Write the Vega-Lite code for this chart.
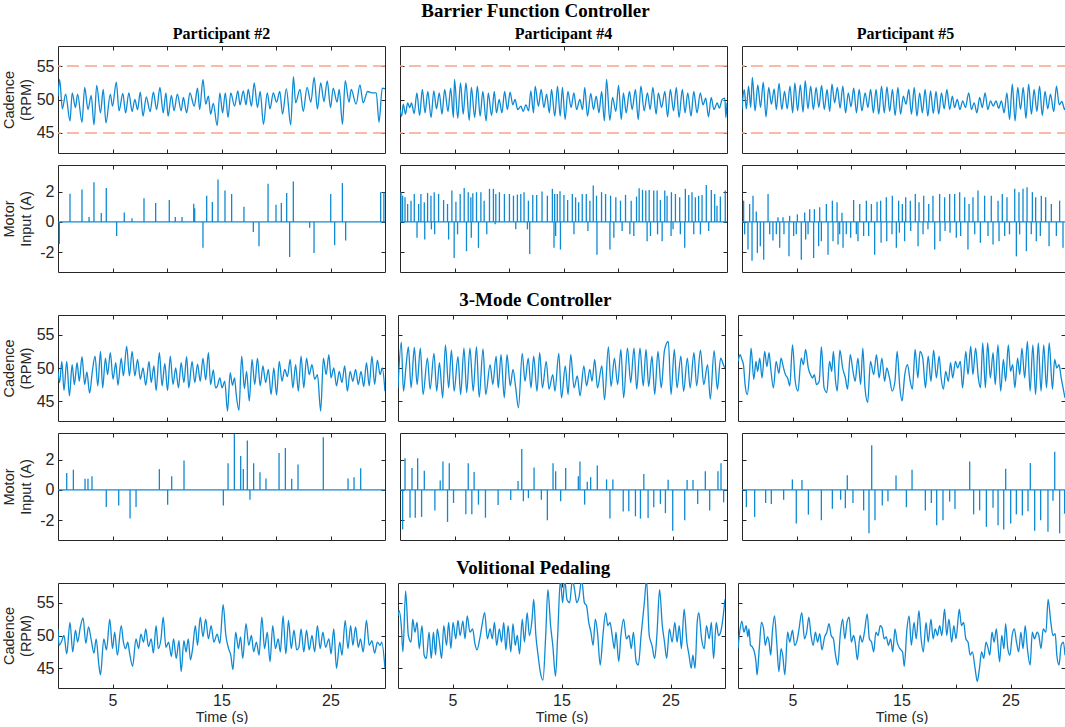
{
  "$schema": "https://vega.github.io/schema/vega-lite/v6.json",
  "background": "white",
  "padding": {"left": 0, "top": 2, "right": 1, "bottom": 0},
  "config": {
    "view": {"stroke": "#262626", "strokeWidth": 1},
    "axis": {"domain": false, "grid": false, "tickSize": -4, "tickColor": "#262626", "tickWidth": 1, "labelPadding": 8, "labelFont": "Liberation Sans", "labelFontSize": 16, "labelColor": "#262626", "titleFont": "Liberation Sans", "titleFontSize": 14.5, "titleFontWeight": "normal", "titleColor": "#262626", "titleLineHeight": 17},
    "axisBottom": {"titlePadding": 2},
    "line": {"interpolate": "monotone"},
    "title": {"font": "Liberation Serif", "fontWeight": "bold", "color": "#000000", "anchor": "middle", "fontSize": 16, "offset": 4}
  },
  "datasets": {
    "lim": [{"v": 45}, {"v": 55}],
    "zero": [{"v": 0}],
    "c1": [{"t":0,"v":50.5},{"t":0.15,"v":53},{"t":0.4,"v":48.6},{"t":0.7,"v":50.8},{"t":1.1,"v":46.8},{"t":1.3,"v":51},{"t":1.6,"v":48.8},{"t":1.8,"v":50.8},{"t":2.2,"v":46.6},{"t":2.45,"v":51.8},{"t":2.75,"v":48.5},{"t":3.05,"v":50.6},{"t":3.3,"v":46.2},{"t":3.55,"v":52.1},{"t":3.9,"v":48},{"t":4.15,"v":51.5},{"t":4.4,"v":46.5},{"t":4.8,"v":50.8},{"t":5,"v":49},{"t":5.35,"v":52.6},{"t":5.6,"v":48.3},{"t":5.95,"v":50.9},{"t":6.2,"v":48},{"t":6.5,"v":51},{"t":6.8,"v":48.2},{"t":7.05,"v":50},{"t":7.3,"v":48.5},{"t":7.55,"v":51.1},{"t":7.8,"v":47.5},{"t":8.1,"v":50.4},{"t":8.45,"v":48.2},{"t":8.75,"v":51.1},{"t":9.05,"v":48.5},{"t":9.35,"v":51.8},{"t":9.65,"v":48},{"t":9.9,"v":51},{"t":10.1,"v":47.5},{"t":10.4,"v":50.6},{"t":10.65,"v":48.3},{"t":10.95,"v":50.8},{"t":11.3,"v":48.3},{"t":11.5,"v":50.3},{"t":11.8,"v":48},{"t":12.1,"v":51},{"t":12.5,"v":49},{"t":12.8,"v":51.7},{"t":13,"v":48.5},{"t":13.3,"v":53},{"t":13.55,"v":49.3},{"t":13.8,"v":50.5},{"t":14,"v":47.8},{"t":14.25,"v":49.4},{"t":14.6,"v":46.1},{"t":14.85,"v":51},{"t":15.1,"v":48},{"t":15.35,"v":51},{"t":15.6,"v":47.3},{"t":15.85,"v":51},{"t":16.2,"v":49},{"t":16.5,"v":51.3},{"t":16.7,"v":49.2},{"t":17,"v":51.3},{"t":17.25,"v":49.2},{"t":17.45,"v":51.5},{"t":17.75,"v":49},{"t":18,"v":52.5},{"t":18.3,"v":48.8},{"t":18.55,"v":51.2},{"t":18.85,"v":46.3},{"t":19.2,"v":51},{"t":19.45,"v":48.6},{"t":19.75,"v":51},{"t":20.05,"v":49.6},{"t":20.35,"v":51.2},{"t":20.6,"v":47.8},{"t":20.95,"v":51.6},{"t":21.35,"v":46.2},{"t":21.6,"v":53.4},{"t":21.8,"v":49.5},{"t":22.2,"v":51.5},{"t":22.5,"v":48.2},{"t":22.85,"v":51.8},{"t":23.2,"v":49.6},{"t":23.5,"v":53.3},{"t":23.8,"v":48.6},{"t":24.1,"v":52.5},{"t":24.4,"v":49.7},{"t":24.7,"v":52.8},{"t":25,"v":48.8},{"t":25.25,"v":51.7},{"t":25.6,"v":49.6},{"t":25.8,"v":51.5},{"t":26.1,"v":46.3},{"t":26.35,"v":52.8},{"t":26.7,"v":49.6},{"t":26.9,"v":51.5},{"t":27.35,"v":49.3},{"t":27.7,"v":52.2},{"t":28,"v":49.5},{"t":28.4,"v":51.2},{"t":28.8,"v":51},{"t":29.2,"v":51},{"t":29.45,"v":46.6},{"t":29.75,"v":51.7},{"t":30,"v":51.6}],
    "c2": [{"t":0,"v":48.5},{"t":0.15,"v":47.5},{"t":0.3,"v":49.3},{"t":0.5,"v":47.8},{"t":0.7,"v":49.5},{"t":0.9,"v":48.8},{"t":1.05,"v":49.5},{"t":1.3,"v":47.9},{"t":1.55,"v":51},{"t":1.8,"v":47.6},{"t":2.05,"v":51.5},{"t":2.3,"v":48},{"t":2.55,"v":51.2},{"t":2.85,"v":47.3},{"t":3.1,"v":51.3},{"t":3.35,"v":48.6},{"t":3.6,"v":51},{"t":3.85,"v":47.8},{"t":4.1,"v":51.5},{"t":4.4,"v":48.2},{"t":4.65,"v":51.7},{"t":4.9,"v":47.3},{"t":5,"v":53},{"t":5.3,"v":47.2},{"t":5.55,"v":52.5},{"t":5.8,"v":47.8},{"t":6.05,"v":52.5},{"t":6.35,"v":46.9},{"t":6.55,"v":51.8},{"t":6.85,"v":47.3},{"t":7.1,"v":52},{"t":7.35,"v":47.5},{"t":7.6,"v":51.2},{"t":7.9,"v":46.8},{"t":8.1,"v":51},{"t":8.4,"v":47.6},{"t":8.65,"v":51.2},{"t":8.85,"v":48},{"t":9.1,"v":50},{"t":9.35,"v":48},{"t":9.6,"v":51.2},{"t":9.85,"v":48.5},{"t":10.1,"v":51.1},{"t":10.35,"v":49.2},{"t":10.55,"v":50},{"t":10.8,"v":48.5},{"t":11.1,"v":49},{"t":11.3,"v":48.2},{"t":11.55,"v":49.2},{"t":11.8,"v":48.3},{"t":12,"v":51.3},{"t":12.25,"v":48},{"t":12.4,"v":52},{"t":12.7,"v":49},{"t":12.95,"v":51.5},{"t":13.2,"v":48.8},{"t":13.45,"v":50.8},{"t":13.7,"v":48},{"t":13.9,"v":51.5},{"t":14.2,"v":47.5},{"t":14.45,"v":52},{"t":14.7,"v":47.5},{"t":14.9,"v":51.8},{"t":15.15,"v":47},{"t":15.4,"v":51.2},{"t":15.7,"v":48.8},{"t":15.95,"v":51},{"t":16.2,"v":48.5},{"t":16.5,"v":50},{"t":16.75,"v":48.5},{"t":16.95,"v":51.8},{"t":17.2,"v":47.5},{"t":17.5,"v":50.9},{"t":17.75,"v":48.5},{"t":18,"v":50.5},{"t":18.25,"v":48},{"t":18.5,"v":51.2},{"t":18.75,"v":46.8},{"t":18.95,"v":53},{"t":19.25,"v":46.9},{"t":19.5,"v":50.3},{"t":19.8,"v":48.2},{"t":20.05,"v":52.1},{"t":20.3,"v":47},{"t":20.5,"v":51},{"t":20.75,"v":48},{"t":21.05,"v":51.2},{"t":21.3,"v":48.5},{"t":21.6,"v":51.5},{"t":21.85,"v":47},{"t":22.1,"v":52},{"t":22.4,"v":48.3},{"t":22.7,"v":51},{"t":22.95,"v":48.5},{"t":23.2,"v":51.8},{"t":23.5,"v":47.8},{"t":23.7,"v":51},{"t":24,"v":48.8},{"t":24.3,"v":51.2},{"t":24.55,"v":47.4},{"t":24.8,"v":51.5},{"t":25.1,"v":48.3},{"t":25.35,"v":51.8},{"t":25.6,"v":47.3},{"t":25.9,"v":51.5},{"t":26.15,"v":48},{"t":26.4,"v":51},{"t":26.7,"v":47.5},{"t":26.95,"v":51.2},{"t":27.25,"v":48},{"t":27.55,"v":51},{"t":27.8,"v":49.2},{"t":28.05,"v":50.2},{"t":28.3,"v":47.4},{"t":28.55,"v":50.3},{"t":28.8,"v":48.5},{"t":29.1,"v":49.5},{"t":29.3,"v":48.7},{"t":29.55,"v":50},{"t":29.8,"v":50.2},{"t":29.9,"v":47.3},{"t":30,"v":49.5}],
    "c3": [{"t":0,"v":48.5},{"t":0.2,"v":51.5},{"t":0.4,"v":48.6},{"t":0.6,"v":52},{"t":0.8,"v":48.8},{"t":0.95,"v":53.3},{"t":1.2,"v":48.3},{"t":1.45,"v":52.2},{"t":1.7,"v":48.8},{"t":1.95,"v":52.6},{"t":2.2,"v":47.4},{"t":2.45,"v":51.8},{"t":2.7,"v":49.3},{"t":2.95,"v":51.6},{"t":3.15,"v":48.5},{"t":3.4,"v":52.4},{"t":3.65,"v":48.5},{"t":3.9,"v":51.2},{"t":4.15,"v":48.6},{"t":4.4,"v":52},{"t":4.65,"v":48},{"t":4.85,"v":52.5},{"t":5.1,"v":48.3},{"t":5.35,"v":52.2},{"t":5.6,"v":48.1},{"t":5.8,"v":52.8},{"t":6.05,"v":48.6},{"t":6.3,"v":52},{"t":6.55,"v":48.5},{"t":6.8,"v":51.8},{"t":7.05,"v":48.8},{"t":7.3,"v":52.1},{"t":7.55,"v":48.5},{"t":7.8,"v":51.5},{"t":8.05,"v":48.2},{"t":8.25,"v":52.3},{"t":8.5,"v":49.5},{"t":8.75,"v":51.8},{"t":9,"v":48.7},{"t":9.25,"v":52},{"t":9.5,"v":48},{"t":9.75,"v":51},{"t":10,"v":48.9},{"t":10.25,"v":51.7},{"t":10.5,"v":48},{"t":10.75,"v":51.5},{"t":11,"v":48.3},{"t":11.3,"v":51},{"t":11.55,"v":48.8},{"t":11.8,"v":51.5},{"t":12.05,"v":48},{"t":12.3,"v":51.5},{"t":12.55,"v":47.8},{"t":12.8,"v":52},{"t":13.05,"v":48},{"t":13.3,"v":51.9},{"t":13.55,"v":48.2},{"t":13.8,"v":51.5},{"t":14.05,"v":47.6},{"t":14.3,"v":51.8},{"t":14.55,"v":47.8},{"t":14.8,"v":50.5},{"t":15.05,"v":49.3},{"t":15.3,"v":51.5},{"t":15.55,"v":47.8},{"t":15.8,"v":51.8},{"t":16.05,"v":47.5},{"t":16.3,"v":51},{"t":16.55,"v":48},{"t":16.8,"v":51.5},{"t":17.05,"v":47.5},{"t":17.3,"v":51.3},{"t":17.55,"v":47.9},{"t":17.8,"v":51.2},{"t":18.05,"v":47.8},{"t":18.3,"v":51},{"t":18.55,"v":48.6},{"t":18.8,"v":51.5},{"t":19.05,"v":48.5},{"t":19.3,"v":50.5},{"t":19.5,"v":48.8},{"t":19.75,"v":50},{"t":20,"v":48.5},{"t":20.25,"v":49.8},{"t":20.5,"v":48.8},{"t":20.8,"v":51},{"t":21.05,"v":48.5},{"t":21.3,"v":49.5},{"t":21.55,"v":48},{"t":21.8,"v":50.3},{"t":22.05,"v":48.8},{"t":22.3,"v":51},{"t":22.55,"v":48.5},{"t":22.8,"v":49.8},{"t":23.05,"v":49},{"t":23.3,"v":49.8},{"t":23.55,"v":48.7},{"t":23.8,"v":49.8},{"t":24.05,"v":48},{"t":24.3,"v":51},{"t":24.55,"v":47},{"t":24.8,"v":52.3},{"t":25.05,"v":46.8},{"t":25.3,"v":51.8},{"t":25.55,"v":48.5},{"t":25.8,"v":51.8},{"t":26.05,"v":47.2},{"t":26.3,"v":52.3},{"t":26.55,"v":47.8},{"t":26.8,"v":51.5},{"t":27.05,"v":48.2},{"t":27.3,"v":52},{"t":27.55,"v":47.6},{"t":27.8,"v":51.2},{"t":28.05,"v":48.6},{"t":28.3,"v":50.8},{"t":28.6,"v":48.2},{"t":28.85,"v":52},{"t":29.1,"v":49.2},{"t":29.35,"v":49.7},{"t":29.6,"v":48.5},{"t":29.8,"v":49.3},{"t":30,"v":49}],
    "c4": [{"t":0,"v":49.5},{"t":0.15,"v":47.8},{"t":0.35,"v":51},{"t":0.55,"v":46.6},{"t":0.8,"v":51},{"t":1.05,"v":45.8},{"t":1.3,"v":50.5},{"t":1.5,"v":47.5},{"t":1.75,"v":50.8},{"t":1.95,"v":48},{"t":2.2,"v":51.7},{"t":2.45,"v":47.5},{"t":2.65,"v":49.4},{"t":2.9,"v":46.2},{"t":3.15,"v":49.5},{"t":3.4,"v":51.8},{"t":3.65,"v":47.3},{"t":3.9,"v":52.5},{"t":4.1,"v":47},{"t":4.35,"v":51.5},{"t":4.55,"v":49},{"t":4.8,"v":52.3},{"t":5.05,"v":48.3},{"t":5.3,"v":50.8},{"t":5.5,"v":47.4},{"t":5.8,"v":51.5},{"t":6,"v":48.8},{"t":6.3,"v":53.3},{"t":6.55,"v":48.8},{"t":6.8,"v":52.5},{"t":7.05,"v":48.8},{"t":7.3,"v":51.3},{"t":7.55,"v":48.3},{"t":7.8,"v":50},{"t":8.05,"v":47.4},{"t":8.35,"v":51},{"t":8.55,"v":47.8},{"t":8.8,"v":50.3},{"t":9,"v":46.6},{"t":9.3,"v":52.3},{"t":9.55,"v":47.3},{"t":9.8,"v":50.7},{"t":10.05,"v":46.6},{"t":10.3,"v":51.8},{"t":10.55,"v":47.5},{"t":10.8,"v":50},{"t":11.05,"v":47},{"t":11.3,"v":50.8},{"t":11.55,"v":47.8},{"t":11.8,"v":51.7},{"t":12,"v":47},{"t":12.3,"v":51},{"t":12.55,"v":47.8},{"t":12.8,"v":50.6},{"t":13.05,"v":48},{"t":13.3,"v":51.5},{"t":13.55,"v":48.2},{"t":13.8,"v":52.3},{"t":14,"v":47.5},{"t":14.25,"v":49.7},{"t":14.45,"v":47},{"t":14.6,"v":47.2},{"t":14.85,"v":48.5},{"t":15.05,"v":47},{"t":15.3,"v":48},{"t":15.55,"v":43.5},{"t":15.8,"v":49.3},{"t":16,"v":47.4},{"t":16.2,"v":48.5},{"t":16.35,"v":46},{"t":16.6,"v":43.6},{"t":16.85,"v":51.8},{"t":17.1,"v":46.9},{"t":17.3,"v":49.5},{"t":17.55,"v":45},{"t":17.8,"v":51.3},{"t":18.05,"v":47.5},{"t":18.3,"v":51.5},{"t":18.55,"v":47.3},{"t":18.8,"v":50.3},{"t":19.05,"v":47.8},{"t":19.3,"v":49.8},{"t":19.55,"v":46},{"t":19.8,"v":50},{"t":20.05,"v":45.9},{"t":20.3,"v":51},{"t":20.55,"v":48},{"t":20.8,"v":49.8},{"t":21.05,"v":48.7},{"t":21.3,"v":51.3},{"t":21.55,"v":47},{"t":21.8,"v":50.5},{"t":22.05,"v":46.5},{"t":22.3,"v":51.8},{"t":22.55,"v":47},{"t":22.8,"v":51.5},{"t":23.05,"v":49},{"t":23.3,"v":50.5},{"t":23.55,"v":48.3},{"t":23.8,"v":49},{"t":24.1,"v":43.5},{"t":24.35,"v":51.5},{"t":24.6,"v":49},{"t":24.85,"v":52},{"t":25.05,"v":48.5},{"t":25.3,"v":50},{"t":25.55,"v":47.3},{"t":25.8,"v":49.5},{"t":26.05,"v":47.8},{"t":26.3,"v":50.3},{"t":26.55,"v":46.5},{"t":26.8,"v":49.5},{"t":27.05,"v":48},{"t":27.3,"v":49.8},{"t":27.55,"v":47.5},{"t":27.8,"v":49.5},{"t":28.05,"v":47.2},{"t":28.3,"v":50.8},{"t":28.55,"v":47.3},{"t":28.8,"v":51.8},{"t":29.05,"v":47.5},{"t":29.3,"v":51.2},{"t":29.55,"v":49},{"t":29.75,"v":50},{"t":30,"v":46.5}],
    "c5": [{"t":0,"v":47},{"t":0.3,"v":53.9},{"t":0.5,"v":46.5},{"t":0.75,"v":50.5},{"t":0.95,"v":53.2},{"t":1.2,"v":47},{"t":1.5,"v":53.1},{"t":1.75,"v":47.5},{"t":2.05,"v":53},{"t":2.3,"v":46},{"t":2.7,"v":51.5},{"t":2.95,"v":46.8},{"t":3.3,"v":52.2},{"t":3.55,"v":46.5},{"t":3.8,"v":50.8},{"t":4.1,"v":45.5},{"t":4.35,"v":53.5},{"t":4.65,"v":47},{"t":4.9,"v":52.7},{"t":5.15,"v":46.5},{"t":5.5,"v":51.7},{"t":5.75,"v":46},{"t":6.05,"v":53},{"t":6.3,"v":46.3},{"t":6.6,"v":53},{"t":6.9,"v":46.5},{"t":7.2,"v":53.2},{"t":7.45,"v":45.6},{"t":7.8,"v":52.9},{"t":8.05,"v":46},{"t":8.45,"v":50.5},{"t":8.7,"v":47.5},{"t":9,"v":51.8},{"t":9.2,"v":47},{"t":9.45,"v":52},{"t":9.75,"v":45.5},{"t":10,"v":52},{"t":10.3,"v":47.3},{"t":10.55,"v":49.8},{"t":10.8,"v":47},{"t":11.05,"v":44},{"t":11.4,"v":52.2},{"t":11.65,"v":48},{"t":11.95,"v":51.5},{"t":12.2,"v":47},{"t":12.45,"v":51.8},{"t":12.75,"v":46.5},{"t":13,"v":52.3},{"t":13.25,"v":47},{"t":13.6,"v":51},{"t":13.85,"v":46.8},{"t":14.2,"v":49},{"t":14.4,"v":46.5},{"t":14.75,"v":52.2},{"t":15,"v":45.5},{"t":15.35,"v":50.3},{"t":15.6,"v":46},{"t":15.85,"v":52},{"t":16.15,"v":47},{"t":16.45,"v":48.8},{"t":16.7,"v":45.8},{"t":17.05,"v":50.3},{"t":17.3,"v":47.3},{"t":17.6,"v":49.8},{"t":17.8,"v":48},{"t":18.05,"v":51.3},{"t":18.3,"v":47},{"t":18.7,"v":50.3},{"t":18.95,"v":45.2},{"t":19.3,"v":53.2},{"t":19.55,"v":47.2},{"t":19.85,"v":51.5},{"t":20.15,"v":47.5},{"t":20.45,"v":52.8},{"t":20.7,"v":45.5},{"t":21.05,"v":53},{"t":21.35,"v":47.8},{"t":21.65,"v":53},{"t":21.9,"v":46.8},{"t":22.2,"v":53},{"t":22.5,"v":47.3},{"t":22.75,"v":52.8},{"t":23,"v":47.2},{"t":23.3,"v":51.8},{"t":23.55,"v":46},{"t":23.85,"v":52.5},{"t":24.15,"v":47},{"t":24.45,"v":52.7},{"t":24.8,"v":54},{"t":25.05,"v":46},{"t":25.35,"v":52.8},{"t":25.6,"v":47},{"t":25.95,"v":51.8},{"t":26.2,"v":46.5},{"t":26.55,"v":51.5},{"t":26.8,"v":47},{"t":27.15,"v":52.3},{"t":27.4,"v":47.3},{"t":27.75,"v":52.7},{"t":28.05,"v":47.5},{"t":28.4,"v":50.5},{"t":28.65,"v":45.3},{"t":29,"v":52.6},{"t":29.3,"v":46.8},{"t":29.6,"v":51.5},{"t":29.9,"v":50.3},{"t":30,"v":50}],
    "c6": [{"t":0,"v":51},{"t":0.2,"v":52},{"t":0.35,"v":51.3},{"t":0.5,"v":50.5},{"t":0.65,"v":47.5},{"t":0.85,"v":46},{"t":1.05,"v":49},{"t":1.2,"v":53},{"t":1.45,"v":48.3},{"t":1.65,"v":51},{"t":1.8,"v":49.5},{"t":2,"v":51.5},{"t":2.2,"v":48.5},{"t":2.45,"v":52.5},{"t":2.65,"v":50.2},{"t":2.85,"v":52.3},{"t":3,"v":50},{"t":3.25,"v":47},{"t":3.5,"v":51},{"t":3.75,"v":49.2},{"t":3.95,"v":51.5},{"t":4.15,"v":50.2},{"t":4.35,"v":49},{"t":4.55,"v":48.5},{"t":4.75,"v":47.3},{"t":5,"v":53.5},{"t":5.25,"v":48},{"t":5.5,"v":46.5},{"t":5.8,"v":51.5},{"t":6,"v":50.5},{"t":6.2,"v":52.8},{"t":6.45,"v":50},{"t":6.65,"v":49},{"t":6.85,"v":48.5},{"t":7,"v":49},{"t":7.2,"v":47.5},{"t":7.45,"v":48},{"t":7.65,"v":53.2},{"t":7.9,"v":47},{"t":8.15,"v":46.3},{"t":8.4,"v":51},{"t":8.6,"v":49.5},{"t":8.75,"v":52.5},{"t":8.95,"v":48},{"t":9.1,"v":46.5},{"t":9.35,"v":52.7},{"t":9.6,"v":50},{"t":9.85,"v":48.5},{"t":10.05,"v":46.8},{"t":10.3,"v":52},{"t":10.55,"v":49.5},{"t":10.75,"v":48},{"t":11,"v":51.5},{"t":11.25,"v":47.5},{"t":11.45,"v":53},{"t":11.65,"v":47},{"t":11.9,"v":44.8},{"t":12.15,"v":51},{"t":12.45,"v":49},{"t":12.7,"v":52},{"t":12.95,"v":48.5},{"t":13.2,"v":51.5},{"t":13.45,"v":48},{"t":13.65,"v":50},{"t":13.9,"v":48.5},{"t":14.15,"v":46.5},{"t":14.4,"v":48},{"t":14.6,"v":52.5},{"t":14.85,"v":47},{"t":15.05,"v":45},{"t":15.3,"v":49},{"t":15.55,"v":50.5},{"t":15.8,"v":48},{"t":16,"v":46.8},{"t":16.25,"v":52.8},{"t":16.5,"v":48.5},{"t":16.7,"v":52.5},{"t":16.95,"v":51.5},{"t":17.2,"v":47},{"t":17.45,"v":51.8},{"t":17.7,"v":48},{"t":17.95,"v":52.7},{"t":18.2,"v":48.5},{"t":18.45,"v":51.8},{"t":18.65,"v":48.3},{"t":18.85,"v":46.8},{"t":19.05,"v":49.5},{"t":19.3,"v":48},{"t":19.5,"v":50.8},{"t":19.7,"v":48.5},{"t":19.95,"v":51},{"t":20.15,"v":50},{"t":20.4,"v":51},{"t":20.6,"v":47},{"t":20.9,"v":52.5},{"t":21.1,"v":49},{"t":21.35,"v":53.3},{"t":21.55,"v":49},{"t":21.8,"v":53},{"t":22.05,"v":48.5},{"t":22.25,"v":47},{"t":22.45,"v":53.8},{"t":22.7,"v":47},{"t":22.9,"v":53.8},{"t":23.15,"v":48.5},{"t":23.4,"v":52.3},{"t":23.6,"v":47.5},{"t":23.85,"v":53.5},{"t":24.1,"v":46.5},{"t":24.35,"v":51.3},{"t":24.55,"v":48},{"t":24.8,"v":53.5},{"t":25,"v":49.5},{"t":25.2,"v":50.5},{"t":25.4,"v":47},{"t":25.65,"v":51.5},{"t":25.85,"v":49},{"t":26.05,"v":53},{"t":26.3,"v":48.5},{"t":26.55,"v":54},{"t":26.8,"v":46.5},{"t":27.05,"v":53.5},{"t":27.3,"v":46},{"t":27.55,"v":53.8},{"t":27.8,"v":46.5},{"t":28.05,"v":53.5},{"t":28.3,"v":47},{"t":28.55,"v":53.8},{"t":28.85,"v":46.8},{"t":29.05,"v":51.3},{"t":29.25,"v":50},{"t":29.45,"v":50.5},{"t":29.65,"v":48.5},{"t":30,"v":45.5}],
    "c7": [{"t":0,"v":51},{"t":0.1,"v":48.5},{"t":0.3,"v":49},{"t":0.55,"v":50},{"t":0.8,"v":47.2},{"t":1.1,"v":52},{"t":1.35,"v":47.5},{"t":1.6,"v":50.8},{"t":1.8,"v":49},{"t":2.05,"v":51.3},{"t":2.3,"v":52.7},{"t":2.55,"v":48.8},{"t":2.8,"v":51.3},{"t":3.05,"v":49.3},{"t":3.3,"v":47.3},{"t":3.5,"v":49.5},{"t":3.75,"v":45.5},{"t":3.9,"v":44},{"t":4.2,"v":49.5},{"t":4.45,"v":47.8},{"t":4.75,"v":52.5},{"t":5,"v":48},{"t":5.2,"v":50.5},{"t":5.45,"v":47},{"t":5.8,"v":51.5},{"t":6,"v":49},{"t":6.2,"v":48},{"t":6.4,"v":49},{"t":6.55,"v":47.5},{"t":6.85,"v":45.3},{"t":7.15,"v":49.5},{"t":7.4,"v":48},{"t":7.6,"v":50.2},{"t":7.85,"v":49},{"t":8.05,"v":51},{"t":8.3,"v":48.3},{"t":8.55,"v":49.5},{"t":8.75,"v":47.3},{"t":9,"v":51.5},{"t":9.2,"v":48},{"t":9.45,"v":49.5},{"t":9.65,"v":52.8},{"t":9.9,"v":48.2},{"t":10.15,"v":49},{"t":10.4,"v":46.8},{"t":10.6,"v":49.5},{"t":10.85,"v":46.5},{"t":11.1,"v":49.2},{"t":11.3,"v":44.5},{"t":11.55,"v":49.2},{"t":11.75,"v":47.5},{"t":11.95,"v":49.5},{"t":12.15,"v":46.3},{"t":12.35,"v":48},{"t":12.6,"v":51.5},{"t":12.8,"v":48.5},{"t":13.05,"v":52.8},{"t":13.3,"v":49.8},{"t":13.55,"v":52.5},{"t":13.8,"v":49.5},{"t":14.05,"v":51.5},{"t":14.3,"v":49},{"t":14.6,"v":50.2},{"t":14.85,"v":48.8},{"t":15.15,"v":54.7},{"t":15.4,"v":50},{"t":15.65,"v":48},{"t":15.85,"v":47},{"t":16.05,"v":44.8},{"t":16.3,"v":50.5},{"t":16.55,"v":48},{"t":16.75,"v":49.8},{"t":16.95,"v":46.5},{"t":17.25,"v":51.8},{"t":17.5,"v":48.5},{"t":17.75,"v":50},{"t":17.95,"v":47.5},{"t":18.2,"v":49},{"t":18.45,"v":47},{"t":18.7,"v":52.8},{"t":18.95,"v":48},{"t":19.2,"v":50.5},{"t":19.45,"v":46},{"t":19.7,"v":51.5},{"t":19.95,"v":48},{"t":20.2,"v":49.5},{"t":20.4,"v":47.5},{"t":20.65,"v":53},{"t":20.9,"v":47.2},{"t":21.15,"v":52.3},{"t":21.4,"v":48},{"t":21.65,"v":50.8},{"t":21.9,"v":47.8},{"t":22.1,"v":48.2},{"t":22.3,"v":51},{"t":22.55,"v":47.5},{"t":22.8,"v":50.8},{"t":23.05,"v":47.8},{"t":23.3,"v":50},{"t":23.55,"v":47.5},{"t":23.8,"v":51.5},{"t":24.05,"v":48},{"t":24.3,"v":50.5},{"t":24.55,"v":48.2},{"t":24.85,"v":49.5},{"t":25.05,"v":47.2},{"t":25.3,"v":51},{"t":25.55,"v":45},{"t":25.85,"v":49},{"t":26.05,"v":47},{"t":26.35,"v":52.3},{"t":26.6,"v":48},{"t":26.85,"v":51.5},{"t":27.05,"v":48.5},{"t":27.3,"v":51.3},{"t":27.55,"v":48.2},{"t":27.75,"v":49.5},{"t":28,"v":47.5},{"t":28.3,"v":52.3},{"t":28.55,"v":48.5},{"t":28.8,"v":49.2},{"t":29.05,"v":47.3},{"t":29.3,"v":49},{"t":29.55,"v":48.5},{"t":29.7,"v":49},{"t":30,"v":45}],
    "c8": [{"t":0,"v":53},{"t":0.1,"v":53.8},{"t":0.3,"v":51.5},{"t":0.45,"v":47.5},{"t":0.7,"v":56.8},{"t":0.95,"v":50},{"t":1.2,"v":49},{"t":1.35,"v":52.5},{"t":1.55,"v":50.5},{"t":1.75,"v":52},{"t":1.95,"v":48},{"t":2.2,"v":51.5},{"t":2.4,"v":47},{"t":2.6,"v":46.5},{"t":2.85,"v":50.5},{"t":3.05,"v":46.5},{"t":3.25,"v":50.5},{"t":3.45,"v":47},{"t":3.6,"v":51},{"t":3.8,"v":49},{"t":4,"v":46.5},{"t":4.2,"v":51.5},{"t":4.45,"v":48.5},{"t":4.65,"v":52},{"t":4.85,"v":48},{"t":5.05,"v":52},{"t":5.3,"v":49.5},{"t":5.5,"v":52.3},{"t":5.7,"v":50},{"t":5.95,"v":52.2},{"t":6.15,"v":49.5},{"t":6.35,"v":53},{"t":6.6,"v":50.5},{"t":6.85,"v":51},{"t":7.05,"v":48.8},{"t":7.25,"v":47.8},{"t":7.5,"v":49.5},{"t":7.7,"v":51.5},{"t":7.95,"v":53.5},{"t":8.2,"v":49.5},{"t":8.45,"v":51},{"t":8.65,"v":49.5},{"t":8.85,"v":52},{"t":9.05,"v":48.5},{"t":9.3,"v":51},{"t":9.5,"v":49},{"t":9.7,"v":52},{"t":9.9,"v":47.8},{"t":10.1,"v":51.5},{"t":10.35,"v":47.5},{"t":10.55,"v":51.8},{"t":10.75,"v":48.5},{"t":10.95,"v":50},{"t":11.15,"v":47.2},{"t":11.4,"v":52.5},{"t":11.6,"v":49},{"t":11.85,"v":53.5},{"t":12.05,"v":50},{"t":12.3,"v":52.5},{"t":12.45,"v":55.5},{"t":12.65,"v":50},{"t":12.85,"v":47},{"t":13.05,"v":44.5},{"t":13.3,"v":43.2},{"t":13.55,"v":50},{"t":13.75,"v":57},{"t":14,"v":51.5},{"t":14.2,"v":48.5},{"t":14.45,"v":43.8},{"t":14.65,"v":50},{"t":14.9,"v":58.5},{"t":15.1,"v":55},{"t":15.3,"v":58.5},{"t":15.5,"v":55.5},{"t":15.75,"v":55},{"t":16,"v":58.5},{"t":16.2,"v":57},{"t":16.4,"v":55},{"t":16.6,"v":55.8},{"t":16.85,"v":58.5},{"t":17.1,"v":55},{"t":17.3,"v":54.5},{"t":17.5,"v":52},{"t":17.7,"v":50.5},{"t":17.9,"v":48.5},{"t":18.1,"v":52.5},{"t":18.3,"v":50.5},{"t":18.55,"v":45.5},{"t":18.8,"v":50},{"t":19.05,"v":53.5},{"t":19.25,"v":51.5},{"t":19.45,"v":52},{"t":19.65,"v":50},{"t":19.85,"v":48},{"t":20,"v":50.5},{"t":20.25,"v":46},{"t":20.45,"v":50},{"t":20.7,"v":52.5},{"t":20.95,"v":49.5},{"t":21.2,"v":50},{"t":21.4,"v":48},{"t":21.6,"v":50.5},{"t":21.85,"v":46},{"t":22.05,"v":45.5},{"t":22.3,"v":50},{"t":22.6,"v":55},{"t":22.8,"v":58.5},{"t":23.05,"v":50},{"t":23.3,"v":48.5},{"t":23.55,"v":46.5},{"t":23.75,"v":50},{"t":24,"v":57},{"t":24.25,"v":51.5},{"t":24.45,"v":49},{"t":24.65,"v":46.5},{"t":24.9,"v":51},{"t":25.15,"v":49},{"t":25.4,"v":52},{"t":25.6,"v":49},{"t":25.8,"v":51.5},{"t":26,"v":48},{"t":26.25,"v":54},{"t":26.5,"v":49},{"t":26.7,"v":47},{"t":26.9,"v":45},{"t":27.05,"v":47},{"t":27.25,"v":45},{"t":27.45,"v":52},{"t":27.6,"v":53.5},{"t":27.85,"v":49.5},{"t":28.1,"v":48},{"t":28.3,"v":51.5},{"t":28.55,"v":49.5},{"t":28.75,"v":52},{"t":28.95,"v":46.5},{"t":29.2,"v":52},{"t":29.4,"v":50},{"t":29.6,"v":50.5},{"t":29.8,"v":52.5},{"t":30,"v":55.5}],
    "c9": [{"t":0,"v":48},{"t":0.15,"v":50.5},{"t":0.35,"v":52.2},{"t":0.55,"v":50.5},{"t":0.75,"v":51.5},{"t":0.9,"v":49.8},{"t":1,"v":51},{"t":1.15,"v":48.5},{"t":1.3,"v":48.3},{"t":1.5,"v":47.5},{"t":1.65,"v":46},{"t":1.75,"v":44},{"t":1.95,"v":48},{"t":2.15,"v":52},{"t":2.35,"v":51},{"t":2.5,"v":48.5},{"t":2.7,"v":49.8},{"t":2.85,"v":49},{"t":3,"v":47},{"t":3.15,"v":50.5},{"t":3.35,"v":53},{"t":3.55,"v":49},{"t":3.75,"v":44.5},{"t":3.95,"v":48},{"t":4.1,"v":47},{"t":4.3,"v":44},{"t":4.55,"v":50.5},{"t":4.75,"v":49},{"t":5,"v":50.8},{"t":5.2,"v":48.5},{"t":5.45,"v":49.5},{"t":5.6,"v":51},{"t":5.85,"v":53.5},{"t":6.1,"v":49.5},{"t":6.3,"v":50.5},{"t":6.5,"v":52.8},{"t":6.7,"v":50},{"t":6.9,"v":48.5},{"t":7.1,"v":50.5},{"t":7.3,"v":49},{"t":7.5,"v":50.3},{"t":7.7,"v":47.8},{"t":7.95,"v":49.8},{"t":8.15,"v":50.5},{"t":8.35,"v":51.8},{"t":8.55,"v":50},{"t":8.75,"v":49.5},{"t":8.95,"v":47},{"t":9.15,"v":45.5},{"t":9.4,"v":50.5},{"t":9.6,"v":52.5},{"t":9.8,"v":49.5},{"t":10,"v":52},{"t":10.2,"v":52.8},{"t":10.4,"v":49},{"t":10.6,"v":50},{"t":10.75,"v":49},{"t":10.95,"v":46.3},{"t":11.2,"v":50},{"t":11.4,"v":49},{"t":11.6,"v":50.5},{"t":11.85,"v":53.3},{"t":12.05,"v":49.5},{"t":12.25,"v":49},{"t":12.45,"v":47.5},{"t":12.65,"v":50.5},{"t":12.85,"v":50},{"t":13.05,"v":51.5},{"t":13.25,"v":51},{"t":13.4,"v":49.5},{"t":13.6,"v":49.8},{"t":13.8,"v":48.5},{"t":14,"v":49.5},{"t":14.2,"v":47.5},{"t":14.4,"v":51},{"t":14.6,"v":49},{"t":14.85,"v":48},{"t":15.1,"v":47.5},{"t":15.25,"v":45.3},{"t":15.5,"v":51},{"t":15.7,"v":53},{"t":15.9,"v":48.5},{"t":16.15,"v":52},{"t":16.35,"v":49.5},{"t":16.6,"v":53.8},{"t":16.8,"v":49.5},{"t":17,"v":47.5},{"t":17.25,"v":52},{"t":17.45,"v":49},{"t":17.7,"v":52.5},{"t":17.9,"v":49.5},{"t":18.1,"v":51},{"t":18.3,"v":50},{"t":18.5,"v":51.5},{"t":18.7,"v":50},{"t":18.95,"v":54},{"t":19.15,"v":50},{"t":19.35,"v":52.5},{"t":19.6,"v":49},{"t":19.8,"v":51.5},{"t":20,"v":49.5},{"t":20.3,"v":54},{"t":20.5,"v":51.5},{"t":20.7,"v":52},{"t":20.9,"v":49.5},{"t":21.1,"v":49},{"t":21.3,"v":47},{"t":21.5,"v":47.5},{"t":21.75,"v":45},{"t":21.95,"v":43},{"t":22.15,"v":45},{"t":22.35,"v":47.5},{"t":22.55,"v":46.5},{"t":22.75,"v":49},{"t":22.95,"v":48},{"t":23.1,"v":47},{"t":23.3,"v":50.5},{"t":23.5,"v":49},{"t":23.7,"v":51},{"t":23.85,"v":48.5},{"t":24,"v":46},{"t":24.2,"v":50},{"t":24.4,"v":48},{"t":24.55,"v":51.8},{"t":24.75,"v":48},{"t":24.95,"v":47},{"t":25.15,"v":50},{"t":25.35,"v":51},{"t":25.55,"v":49},{"t":25.75,"v":47.5},{"t":25.95,"v":50.5},{"t":26.15,"v":48},{"t":26.35,"v":51.5},{"t":26.55,"v":48},{"t":26.8,"v":45.5},{"t":27,"v":50.5},{"t":27.2,"v":49.5},{"t":27.45,"v":50.5},{"t":27.6,"v":50},{"t":27.8,"v":48},{"t":28,"v":51},{"t":28.25,"v":50.5},{"t":28.45,"v":55.5},{"t":28.7,"v":52},{"t":28.9,"v":50},{"t":29.1,"v":50.3},{"t":29.25,"v":47},{"t":29.45,"v":45.5},{"t":29.65,"v":48.5},{"t":29.85,"v":49},{"t":30,"v":47}],
    "m1": [{"t":0.12,"v":-1.45},{"t":1.1,"v":1.85},{"t":2.2,"v":2.13},{"t":2.85,"v":0.33},{"t":3.3,"v":2.62},{"t":3.97,"v":0.58},{"t":4.43,"v":2.24},{"t":5.38,"v":-0.93},{"t":6.08,"v":0.62},{"t":6.79,"v":0.24},{"t":7.89,"v":1.56},{"t":8.96,"v":1.24},{"t":10.21,"v":1.44},{"t":10.76,"v":0.33},{"t":11.38,"v":0.33},{"t":12.45,"v":1.2},{"t":12.54,"v":0.9},{"t":13.3,"v":-1.71},{"t":13.64,"v":1.73},{"t":14.16,"v":1.31},{"t":14.68,"v":2.8},{"t":15.32,"v":2.07},{"t":15.93,"v":1.84},{"t":17.06,"v":1},{"t":17.92,"v":-0.67},{"t":18.44,"v":-1.6},{"t":19.27,"v":2.51},{"t":20,"v":1.13},{"t":20.49,"v":1.24},{"t":20.98,"v":1.91},{"t":21.25,"v":-2.31},{"t":21.59,"v":2.67},{"t":23.09,"v":-0.38},{"t":23.49,"v":-2.04},{"t":25.02,"v":1.84},{"t":25.38,"v":-1.53},{"t":26.09,"v":2.56},{"t":26.39,"v":-1.22},{"t":29.6,"v":1.96},{"t":29.9,"v":1.96}],
    "m2": [{"t":0.09,"v":1.96},{"t":0.24,"v":1.73},{"t":0.46,"v":1.62},{"t":0.7,"v":1.18},{"t":1.01,"v":1.4},{"t":1.31,"v":1.84},{"t":1.71,"v":1.18},{"t":1.92,"v":1.84},{"t":2.23,"v":1.29},{"t":2.53,"v":1.91},{"t":2.84,"v":1.73},{"t":3.14,"v":1.96},{"t":3.54,"v":1.84},{"t":4,"v":1.44},{"t":4.36,"v":1.18},{"t":4.76,"v":2.07},{"t":5.13,"v":1.33},{"t":5.52,"v":1.84},{"t":5.89,"v":2.24},{"t":6.26,"v":1.96},{"t":6.5,"v":1.62},{"t":6.68,"v":1.89},{"t":7.02,"v":1.96},{"t":7.42,"v":1.96},{"t":7.72,"v":1.4},{"t":8.21,"v":2.18},{"t":8.57,"v":2.18},{"t":8.79,"v":1.84},{"t":9.12,"v":1.96},{"t":9.58,"v":1.84},{"t":10.04,"v":1.84},{"t":10.41,"v":1.73},{"t":10.77,"v":1.8},{"t":11.08,"v":1.84},{"t":11.38,"v":1.96},{"t":11.78,"v":1.4},{"t":12.18,"v":1.78},{"t":12.54,"v":1.78},{"t":13.03,"v":2},{"t":13.52,"v":1.73},{"t":13.98,"v":2.18},{"t":14.19,"v":1.84},{"t":14.43,"v":1.84},{"t":14.68,"v":2.02},{"t":15.04,"v":1.78},{"t":15.38,"v":1.44},{"t":15.81,"v":1.84},{"t":16.11,"v":1.62},{"t":16.39,"v":1.29},{"t":16.72,"v":1.84},{"t":17.09,"v":1.84},{"t":17.42,"v":1.4},{"t":17.73,"v":2.4},{"t":18.03,"v":1.73},{"t":18.49,"v":1.96},{"t":18.86,"v":1.84},{"t":19.32,"v":1.73},{"t":19.8,"v":1.62},{"t":20.23,"v":1.4},{"t":20.69,"v":1.78},{"t":21.21,"v":1.4},{"t":21.7,"v":1.67},{"t":21.94,"v":2.22},{"t":22.25,"v":2.11},{"t":22.55,"v":2.07},{"t":22.86,"v":2.11},{"t":23.28,"v":2.07},{"t":23.59,"v":2.07},{"t":23.89,"v":1.44},{"t":24.29,"v":2.07},{"t":24.5,"v":1.73},{"t":24.9,"v":1.96},{"t":25.27,"v":1.84},{"t":25.66,"v":1.62},{"t":26.18,"v":2.18},{"t":26.49,"v":1.78},{"t":26.79,"v":1.96},{"t":27.1,"v":1.62},{"t":27.4,"v":1.73},{"t":27.71,"v":1.78},{"t":28.1,"v":2.44},{"t":28.56,"v":2.11},{"t":28.87,"v":1.84},{"t":29.08,"v":1.07},{"t":29.39,"v":1.67},{"t":29.84,"v":2.07},{"t":1.56,"v":-1.04},{"t":2.27,"v":-1.16},{"t":2.88,"v":-0.49},{"t":3.18,"v":-0.82},{"t":4.46,"v":-1.16},{"t":4.97,"v":-2.38},{"t":5.28,"v":-0.82},{"t":6.1,"v":-1.93},{"t":6.54,"v":-1.04},{"t":7.2,"v":-1.71},{"t":7.96,"v":-0.82},{"t":8.73,"v":-0.16},{"t":10.62,"v":-0.49},{"t":11.69,"v":-0.49},{"t":11.9,"v":-2.11},{"t":14.13,"v":-1.71},{"t":14.28,"v":-0.93},{"t":14.72,"v":-1.82},{"t":15.96,"v":-0.82},{"t":17.24,"v":-0.6},{"t":18.07,"v":-2.16},{"t":19.26,"v":-1.82},{"t":19.62,"v":-1.04},{"t":20.38,"v":-0.6},{"t":21.09,"v":-0.82},{"t":21.45,"v":-0.93},{"t":22.67,"v":-1.27},{"t":22.98,"v":-0.93},{"t":23.63,"v":-0.82},{"t":24.05,"v":-1.27},{"t":24.87,"v":-0.93},{"t":25.05,"v":-0.49},{"t":25.72,"v":-0.82},{"t":26.12,"v":-1.71},{"t":26.95,"v":-0.82},{"t":27.56,"v":-0.82},{"t":28.32,"v":-0.6}],
    "m3": [{"t":0.15,"v":1.4},{"t":0.7,"v":1.18},{"t":1.01,"v":1.73},{"t":1.31,"v":0.69},{"t":2.39,"v":1.84},{"t":3.3,"v":0.3},{"t":3.76,"v":0.3},{"t":4.37,"v":0.4},{"t":5.08,"v":0.5},{"t":5.75,"v":0.62},{"t":6.21,"v":0.84},{"t":6.64,"v":0.84},{"t":7.13,"v":0.96},{"t":7.74,"v":1.18},{"t":8.29,"v":1.4},{"t":8.72,"v":1.29},{"t":9.17,"v":0.6},{"t":10.24,"v":1.45},{"t":10.8,"v":1.18},{"t":11.41,"v":1.4},{"t":11.87,"v":1.18},{"t":12.39,"v":1.33},{"t":12.72,"v":1.4},{"t":13.24,"v":1.62},{"t":13.79,"v":1.73},{"t":14.37,"v":1.4},{"t":14.71,"v":1.18},{"t":15.02,"v":1.62},{"t":15.44,"v":1.4},{"t":15.9,"v":1.84},{"t":16.24,"v":1.29},{"t":16.67,"v":1.73},{"t":17.13,"v":1.18},{"t":17.52,"v":1.73},{"t":18.13,"v":1.84},{"t":18.59,"v":1.62},{"t":19.05,"v":1.84},{"t":19.51,"v":1.84},{"t":19.97,"v":1.96},{"t":20.43,"v":1.62},{"t":20.83,"v":1.18},{"t":21.19,"v":1.62},{"t":21.65,"v":2.07},{"t":22.26,"v":1.73},{"t":22.87,"v":1.73},{"t":23.49,"v":1.4},{"t":23.88,"v":1.84},{"t":24.31,"v":1.62},{"t":25.02,"v":2.18},{"t":25.41,"v":1.96},{"t":25.78,"v":2.18},{"t":26.15,"v":2.29},{"t":26.64,"v":1.96},{"t":26.94,"v":1.62},{"t":27.46,"v":1.73},{"t":27.86,"v":1.62},{"t":28.38,"v":1.18},{"t":29.14,"v":1.4},{"t":29.76,"v":0.84},{"t":29.94,"v":1},{"t":0.24,"v":-0.82},{"t":0.55,"v":-1.82},{"t":0.92,"v":-2.56},{"t":1.41,"v":-2.04},{"t":1.68,"v":-1.6},{"t":1.99,"v":-2.49},{"t":2.54,"v":-0.82},{"t":2.84,"v":-1.22},{"t":3.15,"v":-0.82},{"t":3.46,"v":-1.71},{"t":3.85,"v":-0.82},{"t":4.31,"v":-2.27},{"t":4.74,"v":-0.93},{"t":4.98,"v":-0.82},{"t":5.44,"v":-2.49},{"t":5.84,"v":-1.16},{"t":6.06,"v":-0.82},{"t":6.57,"v":-2.38},{"t":7.03,"v":-1.6},{"t":7.28,"v":-1.27},{"t":7.89,"v":-2.16},{"t":8.35,"v":-1.27},{"t":8.81,"v":-1.49},{"t":8.96,"v":-0.82},{"t":9.27,"v":-1.71},{"t":9.57,"v":-0.82},{"t":9.97,"v":-1.04},{"t":10.49,"v":-0.82},{"t":10.64,"v":-1.27},{"t":11.16,"v":-0.93},{"t":11.62,"v":-0.93},{"t":12.17,"v":-2.16},{"t":12.76,"v":-1.38},{"t":13.28,"v":-1.27},{"t":13.76,"v":-0.82},{"t":14.16,"v":-1.71},{"t":14.44,"v":-0.71},{"t":14.92,"v":-1.27},{"t":15.48,"v":-0.6},{"t":16.15,"v":-1.6},{"t":16.61,"v":-0.82},{"t":17.06,"v":-0.49},{"t":17.68,"v":-1.82},{"t":18.17,"v":-1.27},{"t":18.63,"v":-0.6},{"t":19.09,"v":-0.71},{"t":19.66,"v":-1.04},{"t":20.06,"v":-0.93},{"t":20.73,"v":-1.82},{"t":21.35,"v":-0.82},{"t":21.87,"v":-1.38},{"t":22.57,"v":-0.93},{"t":23.03,"v":-1.49},{"t":23.58,"v":-1.27},{"t":24.1,"v":-0.93},{"t":24.54,"v":-0.82},{"t":25.17,"v":-2.27},{"t":25.47,"v":-0.82},{"t":26.09,"v":-1.93},{"t":26.54,"v":-0.82},{"t":27,"v":-1.27},{"t":27.37,"v":-0.93},{"t":28.17,"v":-1.6},{"t":28.84,"v":-0.93},{"t":29.45,"v":-1.71}],
    "m4": [{"t":0.8,"v":1.11},{"t":1.41,"v":1.33},{"t":2.48,"v":0.73},{"t":2.75,"v":0.73},{"t":3.12,"v":0.9},{"t":9.3,"v":1.37},{"t":10.43,"v":0.9},{"t":11.56,"v":1.93},{"t":15.6,"v":1.76},{"t":16.18,"v":3.68},{"t":16.76,"v":2.23},{"t":17,"v":1.37},{"t":17.37,"v":3.25},{"t":17.95,"v":1.76},{"t":18.53,"v":1.16},{"t":19.08,"v":0.75},{"t":20.28,"v":2.44},{"t":20.86,"v":2.76},{"t":21.44,"v":0.73},{"t":22.02,"v":1.67},{"t":24.34,"v":3.47},{"t":26.61,"v":0.75},{"t":27.16,"v":0.84},{"t":27.77,"v":1.43},{"t":4.43,"v":-1.13},{"t":5.57,"v":-1.03},{"t":6.61,"v":-1.88},{"t":7.16,"v":-1.13},{"t":10.06,"v":-0.98},{"t":15.17,"v":-1.03},{"t":17.61,"v":-0.64}],
    "m5": [{"t":0.46,"v":2.09},{"t":1.1,"v":1.44},{"t":1.62,"v":2.09},{"t":2.23,"v":1.27},{"t":3.69,"v":0.62},{"t":3.94,"v":1.87},{"t":4.52,"v":1.76},{"t":6.26,"v":1.76},{"t":6.8,"v":1.18},{"t":10.83,"v":0.58},{"t":11.17,"v":2.69},{"t":12.3,"v":1.48},{"t":14.04,"v":1.76},{"t":14.28,"v":1.23},{"t":15.2,"v":1.44},{"t":16.36,"v":0.9},{"t":16.51,"v":1.87},{"t":17.18,"v":0.54},{"t":17.49,"v":0.84},{"t":18.1,"v":1.61},{"t":18.95,"v":0.69},{"t":19.53,"v":0.69},{"t":22.37,"v":1.05},{"t":24.6,"v":0.67},{"t":26.34,"v":0.65},{"t":26.88,"v":0.65},{"t":28.01,"v":1.23},{"t":29.17,"v":1.23},{"t":29.45,"v":1.76},{"t":0.24,"v":-2.6},{"t":0.92,"v":-1.83},{"t":1.4,"v":-1.83},{"t":1.98,"v":-1.78},{"t":3.2,"v":-1.35},{"t":4.36,"v":-2.11},{"t":4.91,"v":-0.86},{"t":6.04,"v":-1.61},{"t":6.59,"v":-1.61},{"t":7.2,"v":-0.97},{"t":7.84,"v":-1.83},{"t":9,"v":-0.99},{"t":10.16,"v":-0.67},{"t":11.32,"v":-0.75},{"t":11.78,"v":-0.54},{"t":12.97,"v":-0.65},{"t":13.52,"v":-2},{"t":14.74,"v":-0.75},{"t":16.94,"v":-0.97},{"t":19.26,"v":-1.89},{"t":20.48,"v":-1.42},{"t":20.99,"v":-1.4},{"t":21.6,"v":-1.74},{"t":22.06,"v":-1.89},{"t":22.76,"v":-1.85},{"t":23.28,"v":-1.14},{"t":23.89,"v":-0.92},{"t":24.35,"v":-1.53},{"t":25.02,"v":-2.69},{"t":26.12,"v":-2},{"t":27.31,"v":-0.92},{"t":28.41,"v":-1.35},{"t":29.69,"v":-0.82}],
    "m6": [{"t":4.62,"v":0.69},{"t":5.5,"v":0.65},{"t":9.66,"v":0.97},{"t":11.9,"v":2.95},{"t":14.13,"v":0.95},{"t":15.6,"v":1.33},{"t":20.89,"v":1.87},{"t":24.19,"v":1.4},{"t":26.45,"v":1.78},{"t":28.69,"v":2.52},{"t":29.85,"v":1.48},{"t":0.4,"v":-1.14},{"t":1.16,"v":-1.78},{"t":2.17,"v":-0.86},{"t":2.69,"v":-0.92},{"t":3.82,"v":-0.65},{"t":4.98,"v":-2.22},{"t":6.09,"v":-1.63},{"t":7.28,"v":-2},{"t":8.29,"v":-1.25},{"t":9.05,"v":-0.65},{"t":9.48,"v":-1.2},{"t":10.18,"v":-0.86},{"t":11.16,"v":-1.35},{"t":11.65,"v":-2.86},{"t":12.2,"v":-2},{"t":12.87,"v":-1.03},{"t":13.39,"v":-0.75},{"t":15.08,"v":-1.14},{"t":16.82,"v":-1.35},{"t":17.37,"v":-0.86},{"t":17.86,"v":-2.32},{"t":18.44,"v":-2},{"t":19.05,"v":-0.77},{"t":19.54,"v":-1.25},{"t":21.25,"v":-1.61},{"t":21.8,"v":-1.35},{"t":22.42,"v":-2.43},{"t":23.03,"v":-1.18},{"t":23.49,"v":-2.32},{"t":24.01,"v":-2.6},{"t":24.65,"v":-2.22},{"t":25.17,"v":-1.61},{"t":25.72,"v":-1.68},{"t":26.24,"v":-1.4},{"t":26.85,"v":-2.69},{"t":27.4,"v":-2},{"t":28.07,"v":-2.75},{"t":28.53,"v":-0.71},{"t":29.14,"v":-2.86},{"t":29.6,"v":-1.57},{"t":29.91,"v":-2.65}]
  },
  "spacing": 18,
  "vconcat": [
    {
      "title": {"text": "Barrier Function Controller", "fontSize": 19, "frame": "bounds", "offset": 4},
      "spacing": 10,
      "vconcat": [
        {
          "spacing": 11,
          "hconcat": [
            {"width": 327, "height": 107, "title": "Participant #2", "layer": [
              {"data": {"name": "lim"}, "mark": {"type": "rule", "color": "#f7a58c", "strokeWidth": 1.6, "strokeDash": [12, 6]}, "encoding": {"y": {"field": "v", "type": "quantitative", "scale": {"domain": [42, 58], "nice": false, "zero": false}, "axis": null}}},
              {"data": {"name": "c1"}, "mark": {"type": "line", "color": "#0e8ad4", "strokeWidth": 1.3, "clip": true}, "encoding": {"x": {"field": "t", "type": "quantitative", "scale": {"domain": [0, 30], "nice": false, "zero": false}, "axis": {"values": [5, 10, 15, 20, 25], "labels": false, "title": null}}, "y": {"field": "v", "type": "quantitative", "scale": {"domain": [42, 58], "nice": false, "zero": false}, "axis": {"values": [45, 50, 55], "title": ["Cadence", "(RPM)"], "minExtent": 22, "maxExtent": 22, "titlePadding": 3}}}},
              {"data": {"name": "c1"}, "mark": {"type": "point", "size": 0, "opacity": 0, "clip": true}, "encoding": {"x": {"field": "t", "type": "quantitative", "scale": {"domain": [0, 30], "nice": false, "zero": false}, "axis": {"orient": "top", "values": [5, 10, 15, 20, 25], "labels": false, "title": null}}, "y": {"field": "v", "type": "quantitative", "scale": {"domain": [42, 58], "nice": false, "zero": false}, "axis": {"orient": "right", "values": [45, 50, 55], "labels": false, "title": null}}}}
            ], "resolve": {"axis": {"x": "independent", "y": "independent"}}},
            {"width": 327, "height": 107, "title": "Participant #4", "layer": [
              {"data": {"name": "lim"}, "mark": {"type": "rule", "color": "#f7a58c", "strokeWidth": 1.6, "strokeDash": [12, 6]}, "encoding": {"y": {"field": "v", "type": "quantitative", "scale": {"domain": [42, 58], "nice": false, "zero": false}, "axis": null}}},
              {"data": {"name": "c2"}, "mark": {"type": "line", "color": "#0e8ad4", "strokeWidth": 1.3, "clip": true}, "encoding": {"x": {"field": "t", "type": "quantitative", "scale": {"domain": [0, 30], "nice": false, "zero": false}, "axis": {"values": [5, 10, 15, 20, 25], "labels": false, "title": null}}, "y": {"field": "v", "type": "quantitative", "scale": {"domain": [42, 58], "nice": false, "zero": false}, "axis": {"values": [45, 50, 55], "labels": false, "title": null}}}},
              {"data": {"name": "c2"}, "mark": {"type": "point", "size": 0, "opacity": 0, "clip": true}, "encoding": {"x": {"field": "t", "type": "quantitative", "scale": {"domain": [0, 30], "nice": false, "zero": false}, "axis": {"orient": "top", "values": [5, 10, 15, 20, 25], "labels": false, "title": null}}, "y": {"field": "v", "type": "quantitative", "scale": {"domain": [42, 58], "nice": false, "zero": false}, "axis": {"orient": "right", "values": [45, 50, 55], "labels": false, "title": null}}}}
            ], "resolve": {"axis": {"x": "independent", "y": "independent"}}},
            {"width": 327, "height": 107, "title": "Participant #5", "layer": [
              {"data": {"name": "lim"}, "mark": {"type": "rule", "color": "#f7a58c", "strokeWidth": 1.6, "strokeDash": [12, 6]}, "encoding": {"y": {"field": "v", "type": "quantitative", "scale": {"domain": [42, 58], "nice": false, "zero": false}, "axis": null}}},
              {"data": {"name": "c3"}, "mark": {"type": "line", "color": "#0e8ad4", "strokeWidth": 1.3, "clip": true}, "encoding": {"x": {"field": "t", "type": "quantitative", "scale": {"domain": [0, 30], "nice": false, "zero": false}, "axis": {"values": [5, 10, 15, 20, 25], "labels": false, "title": null}}, "y": {"field": "v", "type": "quantitative", "scale": {"domain": [42, 58], "nice": false, "zero": false}, "axis": {"values": [45, 50, 55], "labels": false, "title": null}}}},
              {"data": {"name": "c3"}, "mark": {"type": "point", "size": 0, "opacity": 0, "clip": true}, "encoding": {"x": {"field": "t", "type": "quantitative", "scale": {"domain": [0, 30], "nice": false, "zero": false}, "axis": {"orient": "top", "values": [5, 10, 15, 20, 25], "labels": false, "title": null}}, "y": {"field": "v", "type": "quantitative", "scale": {"domain": [42, 58], "nice": false, "zero": false}, "axis": {"orient": "right", "values": [45, 50, 55], "labels": false, "title": null}}}}
            ], "resolve": {"axis": {"x": "independent", "y": "independent"}}}
          ]
        },
        {
          "spacing": 11,
          "hconcat": [
            {"width": 327, "height": 107, "layer": [
              {"data": {"name": "zero"}, "mark": {"type": "rule", "color": "#0e8ad4", "strokeWidth": 1.3}, "encoding": {"y": {"field": "v", "type": "quantitative", "scale": {"domain": [-3.3, 3.75], "nice": false, "zero": false}, "axis": null}}},
              {"data": {"name": "m1"}, "mark": {"type": "rule", "color": "#0e8ad4", "strokeWidth": 1.3, "clip": true}, "encoding": {"x": {"field": "t", "type": "quantitative", "scale": {"domain": [0, 30], "nice": false, "zero": false}, "axis": {"values": [5, 10, 15, 20, 25], "labels": false, "title": null}}, "y": {"field": "v", "type": "quantitative", "scale": {"domain": [-3.3, 3.75], "nice": false, "zero": false}, "axis": {"values": [-2, 0, 2], "labelExpr": "'' + datum.value", "title": ["Motor", "Input (A)"], "minExtent": 22, "maxExtent": 22, "titlePadding": 3}}, "y2": {"datum": 0}}},
              {"data": {"name": "m1"}, "mark": {"type": "point", "size": 0, "opacity": 0, "clip": true}, "encoding": {"x": {"field": "t", "type": "quantitative", "scale": {"domain": [0, 30], "nice": false, "zero": false}, "axis": {"orient": "top", "values": [5, 10, 15, 20, 25], "labels": false, "title": null}}, "y": {"field": "v", "type": "quantitative", "scale": {"domain": [-3.3, 3.75], "nice": false, "zero": false}, "axis": {"orient": "right", "values": [-2, 0, 2], "labels": false, "title": null}}}}
            ], "resolve": {"axis": {"x": "independent", "y": "independent"}}},
            {"width": 327, "height": 107, "layer": [
              {"data": {"name": "zero"}, "mark": {"type": "rule", "color": "#0e8ad4", "strokeWidth": 1.3}, "encoding": {"y": {"field": "v", "type": "quantitative", "scale": {"domain": [-3.3, 3.75], "nice": false, "zero": false}, "axis": null}}},
              {"data": {"name": "m2"}, "mark": {"type": "rule", "color": "#0e8ad4", "strokeWidth": 1.3, "clip": true}, "encoding": {"x": {"field": "t", "type": "quantitative", "scale": {"domain": [0, 30], "nice": false, "zero": false}, "axis": {"values": [5, 10, 15, 20, 25], "labels": false, "title": null}}, "y": {"field": "v", "type": "quantitative", "scale": {"domain": [-3.3, 3.75], "nice": false, "zero": false}, "axis": {"values": [-2, 0, 2], "labels": false, "title": null}}, "y2": {"datum": 0}}},
              {"data": {"name": "m2"}, "mark": {"type": "point", "size": 0, "opacity": 0, "clip": true}, "encoding": {"x": {"field": "t", "type": "quantitative", "scale": {"domain": [0, 30], "nice": false, "zero": false}, "axis": {"orient": "top", "values": [5, 10, 15, 20, 25], "labels": false, "title": null}}, "y": {"field": "v", "type": "quantitative", "scale": {"domain": [-3.3, 3.75], "nice": false, "zero": false}, "axis": {"orient": "right", "values": [-2, 0, 2], "labels": false, "title": null}}}}
            ], "resolve": {"axis": {"x": "independent", "y": "independent"}}},
            {"width": 327, "height": 107, "layer": [
              {"data": {"name": "zero"}, "mark": {"type": "rule", "color": "#0e8ad4", "strokeWidth": 1.3}, "encoding": {"y": {"field": "v", "type": "quantitative", "scale": {"domain": [-3.3, 3.75], "nice": false, "zero": false}, "axis": null}}},
              {"data": {"name": "m3"}, "mark": {"type": "rule", "color": "#0e8ad4", "strokeWidth": 1.3, "clip": true}, "encoding": {"x": {"field": "t", "type": "quantitative", "scale": {"domain": [0, 30], "nice": false, "zero": false}, "axis": {"values": [5, 10, 15, 20, 25], "labels": false, "title": null}}, "y": {"field": "v", "type": "quantitative", "scale": {"domain": [-3.3, 3.75], "nice": false, "zero": false}, "axis": {"values": [-2, 0, 2], "labels": false, "title": null}}, "y2": {"datum": 0}}},
              {"data": {"name": "m3"}, "mark": {"type": "point", "size": 0, "opacity": 0, "clip": true}, "encoding": {"x": {"field": "t", "type": "quantitative", "scale": {"domain": [0, 30], "nice": false, "zero": false}, "axis": {"orient": "top", "values": [5, 10, 15, 20, 25], "labels": false, "title": null}}, "y": {"field": "v", "type": "quantitative", "scale": {"domain": [-3.3, 3.75], "nice": false, "zero": false}, "axis": {"orient": "right", "values": [-2, 0, 2], "labels": false, "title": null}}}}
            ], "resolve": {"axis": {"x": "independent", "y": "independent"}}}
          ]
        }
      ]
    },
    {
      "title": {"text": "3-Mode Controller", "fontSize": 19, "frame": "bounds", "offset": 4},
      "spacing": 10,
      "vconcat": [
        {
          "spacing": 11,
          "hconcat": [
            {"width": 327, "height": 106, "layer": [
              {"data": {"name": "c4"}, "mark": {"type": "line", "color": "#0e8ad4", "strokeWidth": 1.3, "clip": true}, "encoding": {"x": {"field": "t", "type": "quantitative", "scale": {"domain": [0, 30], "nice": false, "zero": false}, "axis": {"values": [5, 10, 15, 20, 25], "labels": false, "title": null}}, "y": {"field": "v", "type": "quantitative", "scale": {"domain": [42, 58], "nice": false, "zero": false}, "axis": {"values": [45, 50, 55], "title": ["Cadence", "(RPM)"], "minExtent": 22, "maxExtent": 22, "titlePadding": 3}}}},
              {"data": {"name": "c4"}, "mark": {"type": "point", "size": 0, "opacity": 0, "clip": true}, "encoding": {"x": {"field": "t", "type": "quantitative", "scale": {"domain": [0, 30], "nice": false, "zero": false}, "axis": {"orient": "top", "values": [5, 10, 15, 20, 25], "labels": false, "title": null}}, "y": {"field": "v", "type": "quantitative", "scale": {"domain": [42, 58], "nice": false, "zero": false}, "axis": {"orient": "right", "values": [45, 50, 55], "labels": false, "title": null}}}}
            ], "resolve": {"axis": {"x": "independent", "y": "independent"}}},
            {"width": 327, "height": 106, "layer": [
              {"data": {"name": "c5"}, "mark": {"type": "line", "color": "#0e8ad4", "strokeWidth": 1.3, "clip": true}, "encoding": {"x": {"field": "t", "type": "quantitative", "scale": {"domain": [0, 30], "nice": false, "zero": false}, "axis": {"values": [5, 10, 15, 20, 25], "labels": false, "title": null}}, "y": {"field": "v", "type": "quantitative", "scale": {"domain": [42, 58], "nice": false, "zero": false}, "axis": {"values": [45, 50, 55], "labels": false, "title": null}}}},
              {"data": {"name": "c5"}, "mark": {"type": "point", "size": 0, "opacity": 0, "clip": true}, "encoding": {"x": {"field": "t", "type": "quantitative", "scale": {"domain": [0, 30], "nice": false, "zero": false}, "axis": {"orient": "top", "values": [5, 10, 15, 20, 25], "labels": false, "title": null}}, "y": {"field": "v", "type": "quantitative", "scale": {"domain": [42, 58], "nice": false, "zero": false}, "axis": {"orient": "right", "values": [45, 50, 55], "labels": false, "title": null}}}}
            ], "resolve": {"axis": {"x": "independent", "y": "independent"}}},
            {"width": 327, "height": 106, "layer": [
              {"data": {"name": "c6"}, "mark": {"type": "line", "color": "#0e8ad4", "strokeWidth": 1.3, "clip": true}, "encoding": {"x": {"field": "t", "type": "quantitative", "scale": {"domain": [0, 30], "nice": false, "zero": false}, "axis": {"values": [5, 10, 15, 20, 25], "labels": false, "title": null}}, "y": {"field": "v", "type": "quantitative", "scale": {"domain": [42, 58], "nice": false, "zero": false}, "axis": {"values": [45, 50, 55], "labels": false, "title": null}}}},
              {"data": {"name": "c6"}, "mark": {"type": "point", "size": 0, "opacity": 0, "clip": true}, "encoding": {"x": {"field": "t", "type": "quantitative", "scale": {"domain": [0, 30], "nice": false, "zero": false}, "axis": {"orient": "top", "values": [5, 10, 15, 20, 25], "labels": false, "title": null}}, "y": {"field": "v", "type": "quantitative", "scale": {"domain": [42, 58], "nice": false, "zero": false}, "axis": {"orient": "right", "values": [45, 50, 55], "labels": false, "title": null}}}}
            ], "resolve": {"axis": {"x": "independent", "y": "independent"}}}
          ]
        },
        {
          "spacing": 11,
          "hconcat": [
            {"width": 327, "height": 107, "layer": [
              {"data": {"name": "zero"}, "mark": {"type": "rule", "color": "#0e8ad4", "strokeWidth": 1.3}, "encoding": {"y": {"field": "v", "type": "quantitative", "scale": {"domain": [-3.3, 3.75], "nice": false, "zero": false}, "axis": null}}},
              {"data": {"name": "m4"}, "mark": {"type": "rule", "color": "#0e8ad4", "strokeWidth": 1.3, "clip": true}, "encoding": {"x": {"field": "t", "type": "quantitative", "scale": {"domain": [0, 30], "nice": false, "zero": false}, "axis": {"values": [5, 10, 15, 20, 25], "labels": false, "title": null}}, "y": {"field": "v", "type": "quantitative", "scale": {"domain": [-3.3, 3.75], "nice": false, "zero": false}, "axis": {"values": [-2, 0, 2], "labelExpr": "'' + datum.value", "title": ["Motor", "Input (A)"], "minExtent": 22, "maxExtent": 22, "titlePadding": 3}}, "y2": {"datum": 0}}},
              {"data": {"name": "m4"}, "mark": {"type": "point", "size": 0, "opacity": 0, "clip": true}, "encoding": {"x": {"field": "t", "type": "quantitative", "scale": {"domain": [0, 30], "nice": false, "zero": false}, "axis": {"orient": "top", "values": [5, 10, 15, 20, 25], "labels": false, "title": null}}, "y": {"field": "v", "type": "quantitative", "scale": {"domain": [-3.3, 3.75], "nice": false, "zero": false}, "axis": {"orient": "right", "values": [-2, 0, 2], "labels": false, "title": null}}}}
            ], "resolve": {"axis": {"x": "independent", "y": "independent"}}},
            {"width": 327, "height": 107, "layer": [
              {"data": {"name": "zero"}, "mark": {"type": "rule", "color": "#0e8ad4", "strokeWidth": 1.3}, "encoding": {"y": {"field": "v", "type": "quantitative", "scale": {"domain": [-3.3, 3.75], "nice": false, "zero": false}, "axis": null}}},
              {"data": {"name": "m5"}, "mark": {"type": "rule", "color": "#0e8ad4", "strokeWidth": 1.3, "clip": true}, "encoding": {"x": {"field": "t", "type": "quantitative", "scale": {"domain": [0, 30], "nice": false, "zero": false}, "axis": {"values": [5, 10, 15, 20, 25], "labels": false, "title": null}}, "y": {"field": "v", "type": "quantitative", "scale": {"domain": [-3.3, 3.75], "nice": false, "zero": false}, "axis": {"values": [-2, 0, 2], "labels": false, "title": null}}, "y2": {"datum": 0}}},
              {"data": {"name": "m5"}, "mark": {"type": "point", "size": 0, "opacity": 0, "clip": true}, "encoding": {"x": {"field": "t", "type": "quantitative", "scale": {"domain": [0, 30], "nice": false, "zero": false}, "axis": {"orient": "top", "values": [5, 10, 15, 20, 25], "labels": false, "title": null}}, "y": {"field": "v", "type": "quantitative", "scale": {"domain": [-3.3, 3.75], "nice": false, "zero": false}, "axis": {"orient": "right", "values": [-2, 0, 2], "labels": false, "title": null}}}}
            ], "resolve": {"axis": {"x": "independent", "y": "independent"}}},
            {"width": 327, "height": 107, "layer": [
              {"data": {"name": "zero"}, "mark": {"type": "rule", "color": "#0e8ad4", "strokeWidth": 1.3}, "encoding": {"y": {"field": "v", "type": "quantitative", "scale": {"domain": [-3.3, 3.75], "nice": false, "zero": false}, "axis": null}}},
              {"data": {"name": "m6"}, "mark": {"type": "rule", "color": "#0e8ad4", "strokeWidth": 1.3, "clip": true}, "encoding": {"x": {"field": "t", "type": "quantitative", "scale": {"domain": [0, 30], "nice": false, "zero": false}, "axis": {"values": [5, 10, 15, 20, 25], "labels": false, "title": null}}, "y": {"field": "v", "type": "quantitative", "scale": {"domain": [-3.3, 3.75], "nice": false, "zero": false}, "axis": {"values": [-2, 0, 2], "labels": false, "title": null}}, "y2": {"datum": 0}}},
              {"data": {"name": "m6"}, "mark": {"type": "point", "size": 0, "opacity": 0, "clip": true}, "encoding": {"x": {"field": "t", "type": "quantitative", "scale": {"domain": [0, 30], "nice": false, "zero": false}, "axis": {"orient": "top", "values": [5, 10, 15, 20, 25], "labels": false, "title": null}}, "y": {"field": "v", "type": "quantitative", "scale": {"domain": [-3.3, 3.75], "nice": false, "zero": false}, "axis": {"orient": "right", "values": [-2, 0, 2], "labels": false, "title": null}}}}
            ], "resolve": {"axis": {"x": "independent", "y": "independent"}}}
          ]
        }
      ]
    },
    {
      "title": {"text": "Volitional Pedaling", "fontSize": 19, "frame": "bounds", "offset": 4},
      "vconcat": [
        {
          "spacing": 11,
          "hconcat": [
            {"width": 327, "height": 105, "layer": [
              {"data": {"name": "c7"}, "mark": {"type": "line", "color": "#0e8ad4", "strokeWidth": 1.3, "clip": true}, "encoding": {"x": {"field": "t", "type": "quantitative", "scale": {"domain": [0, 30], "nice": false, "zero": false}, "axis": {"values": [5, 10, 15, 20, 25], "labelExpr": "datum.value % 10 == 5 ? datum.label : ''", "title": "Time (s)"}}, "y": {"field": "v", "type": "quantitative", "scale": {"domain": [42, 58], "nice": false, "zero": false}, "axis": {"values": [45, 50, 55], "title": ["Cadence", "(RPM)"], "minExtent": 22, "maxExtent": 22, "titlePadding": 3}}}},
              {"data": {"name": "c7"}, "mark": {"type": "point", "size": 0, "opacity": 0, "clip": true}, "encoding": {"x": {"field": "t", "type": "quantitative", "scale": {"domain": [0, 30], "nice": false, "zero": false}, "axis": {"orient": "top", "values": [5, 10, 15, 20, 25], "labels": false, "title": null}}, "y": {"field": "v", "type": "quantitative", "scale": {"domain": [42, 58], "nice": false, "zero": false}, "axis": {"orient": "right", "values": [45, 50, 55], "labels": false, "title": null}}}}
            ], "resolve": {"axis": {"x": "independent", "y": "independent"}}},
            {"width": 327, "height": 105, "layer": [
              {"data": {"name": "c8"}, "mark": {"type": "line", "color": "#0e8ad4", "strokeWidth": 1.3, "clip": true}, "encoding": {"x": {"field": "t", "type": "quantitative", "scale": {"domain": [0, 30], "nice": false, "zero": false}, "axis": {"values": [5, 10, 15, 20, 25], "labelExpr": "datum.value % 10 == 5 ? datum.label : ''", "title": "Time (s)"}}, "y": {"field": "v", "type": "quantitative", "scale": {"domain": [42, 58], "nice": false, "zero": false}, "axis": {"values": [45, 50, 55], "labels": false, "title": null}}}},
              {"data": {"name": "c8"}, "mark": {"type": "point", "size": 0, "opacity": 0, "clip": true}, "encoding": {"x": {"field": "t", "type": "quantitative", "scale": {"domain": [0, 30], "nice": false, "zero": false}, "axis": {"orient": "top", "values": [5, 10, 15, 20, 25], "labels": false, "title": null}}, "y": {"field": "v", "type": "quantitative", "scale": {"domain": [42, 58], "nice": false, "zero": false}, "axis": {"orient": "right", "values": [45, 50, 55], "labels": false, "title": null}}}}
            ], "resolve": {"axis": {"x": "independent", "y": "independent"}}},
            {"width": 327, "height": 105, "layer": [
              {"data": {"name": "c9"}, "mark": {"type": "line", "color": "#0e8ad4", "strokeWidth": 1.3, "clip": true}, "encoding": {"x": {"field": "t", "type": "quantitative", "scale": {"domain": [0, 30], "nice": false, "zero": false}, "axis": {"values": [5, 10, 15, 20, 25], "labelExpr": "datum.value % 10 == 5 ? datum.label : ''", "title": "Time (s)"}}, "y": {"field": "v", "type": "quantitative", "scale": {"domain": [42, 58], "nice": false, "zero": false}, "axis": {"values": [45, 50, 55], "labels": false, "title": null}}}},
              {"data": {"name": "c9"}, "mark": {"type": "point", "size": 0, "opacity": 0, "clip": true}, "encoding": {"x": {"field": "t", "type": "quantitative", "scale": {"domain": [0, 30], "nice": false, "zero": false}, "axis": {"orient": "top", "values": [5, 10, 15, 20, 25], "labels": false, "title": null}}, "y": {"field": "v", "type": "quantitative", "scale": {"domain": [42, 58], "nice": false, "zero": false}, "axis": {"orient": "right", "values": [45, 50, 55], "labels": false, "title": null}}}}
            ], "resolve": {"axis": {"x": "independent", "y": "independent"}}}
          ]
        }
      ]
    }
  ]
}
